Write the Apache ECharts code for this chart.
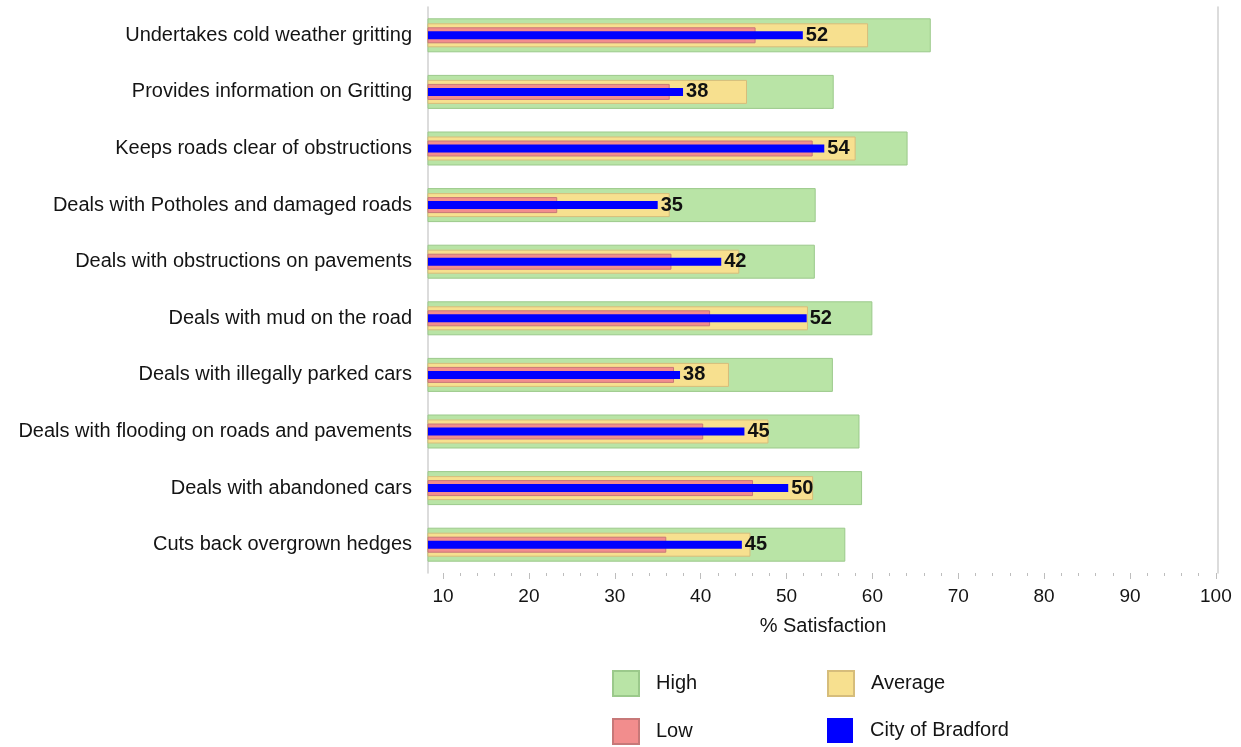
<!DOCTYPE html>
<html>
<head>
<meta charset="utf-8">
<script src="https://cdn.jsdelivr.net/npm/echarts@6/dist/echarts.min.js"></script>
<style>
html,body{margin:0;padding:0;background:#fff;}
#chart{width:1241px;height:747px;}
</style>
</head>
<body>
<div id="chart"></div>
<script>
const categories = [
  "Undertakes cold weather gritting",
  "Provides information on Gritting",
  "Keeps roads clear of obstructions",
  "Deals with Potholes and damaged roads",
  "Deals with obstructions on pavements",
  "Deals with mud on the road",
  "Deals with illegally parked cars",
  "Deals with flooding on roads and pavements",
  "Deals with abandoned cars",
  "Cuts back overgrown hedges"
];
const highValues    = [66.8, 55.5, 64.1, 53.4, 53.3, 60.0, 55.4, 58.5, 58.8, 56.85];
const averageValues = [59.5, 45.4, 58.05, 36.4, 44.5, 52.5, 43.3, 47.9, 53.1, 45.8];
const lowValues     = [46.4, 36.4, 53.05, 23.3, 36.6, 41.1, 36.9, 40.3, 46.1, 36.0];
const cityValues    = [51.9, 37.95, 54.4, 35.0, 42.4, 52.35, 37.6, 45.1, 50.2, 44.8];
const majorTicks = [10, 20, 30, 40, 50, 60, 70, 80, 90, 100];
const minorTicks = [12,14,16,18,22,24,26,28,32,34,36,38,42,44,46,48,52,54,56,58,62,64,66,68,72,74,76,78,82,84,86,88,92,94,96,98];

const FONT = "'Liberation Sans', Arial, sans-serif";
const TXT = '#141414';
const LINE = '#d0d0d0';

function hiddenY(extra) {
  return Object.assign({
    type: 'category', data: categories, inverse: true, show: false,
    axisLine: {show: false}, axisTick: {show: false}, axisLabel: {show: false}
  }, extra || {});
}

const chart = echarts.init(document.getElementById('chart'));
chart.setOption({
  animation: false,
  backgroundColor: '#fff',
  grid: {left: 428, right: 23, top: 7, bottom: 174, containLabel: false},
  xAxis: [
    {
      type: 'value', min: 8.25, max: 100.25, position: 'bottom',
      axisLine: {show: false},
      splitLine: {show: false},
      axisTick: {show: true, customValues: majorTicks, length: 6, lineStyle: {color: '#bdbdbd'}},
      axisLabel: {customValues: majorTicks, margin: 14, fontSize: 19, fontFamily: FONT, color: TXT},
      name: '% Satisfaction', nameLocation: 'middle', nameGap: 43,
      nameTextStyle: {fontSize: 20, fontFamily: FONT, color: TXT}
    },
    {
      type: 'value', min: 8.25, max: 100.25, position: 'bottom',
      axisLine: {show: false},
      splitLine: {show: false},
      axisTick: {show: true, customValues: minorTicks, length: 3, lineStyle: {color: '#bdbdbd'}},
      axisLabel: {show: false}
    }
  ],
  yAxis: [
    {
      type: 'category', data: categories, inverse: true, position: 'left',
      axisLine: {show: true, lineStyle: {color: LINE, width: 1.5}},
      axisTick: {show: false},
      axisLabel: {margin: 16, fontSize: 20, fontFamily: FONT, color: TXT}
    },
    {
      type: 'category', data: categories, inverse: true, position: 'right',
      axisLine: {show: true, lineStyle: {color: LINE, width: 1.5}},
      axisTick: {show: false}, axisLabel: {show: false}
    },
    hiddenY(),
    hiddenY()
  ],
  legend: [
    {data: ['High'], left: 612, top: 670},
    {data: ['Average'], left: 827, top: 670},
    {data: ['Low'], left: 612, top: 718},
    {data: ['City of Bradford'], left: 827, top: 718}
  ].map(l => Object.assign({
    orient: 'horizontal', icon: 'rect', itemWidth: 26, itemHeight: 25, padding: 0,
    selectedMode: false,
    textStyle: {fontSize: 20, fontFamily: FONT, color: TXT, padding: [0, 0, 0, 12]}
  }, l)),
  series: [
    {
      name: 'High', type: 'bar', yAxisIndex: 0, barWidth: 34, data: highValues,
      itemStyle: {color: '#b9e4a6', borderColor: '#9bc98b', borderWidth: 1}
    },
    {
      name: 'Average', type: 'bar', yAxisIndex: 1, barWidth: 24, data: averageValues,
      itemStyle: {color: '#f7e08f', borderColor: '#d6bd7b', borderWidth: 1}
    },
    {
      name: 'Low', type: 'bar', yAxisIndex: 2, barWidth: 16, data: lowValues,
      itemStyle: {color: '#f28d8d', borderColor: '#c77878', borderWidth: 1}
    },
    {
      name: 'City of Bradford', type: 'bar', yAxisIndex: 3, barWidth: 8, data: cityValues,
      itemStyle: {color: '#0000ff'},
      label: {
        show: true, position: 'right', distance: 3,
        formatter: p => String(Math.round(p.value)),
        fontSize: 20, fontWeight: 'bold', fontFamily: FONT, color: '#111'
      }
    }
  ]
});
</script>
</body>
</html>
